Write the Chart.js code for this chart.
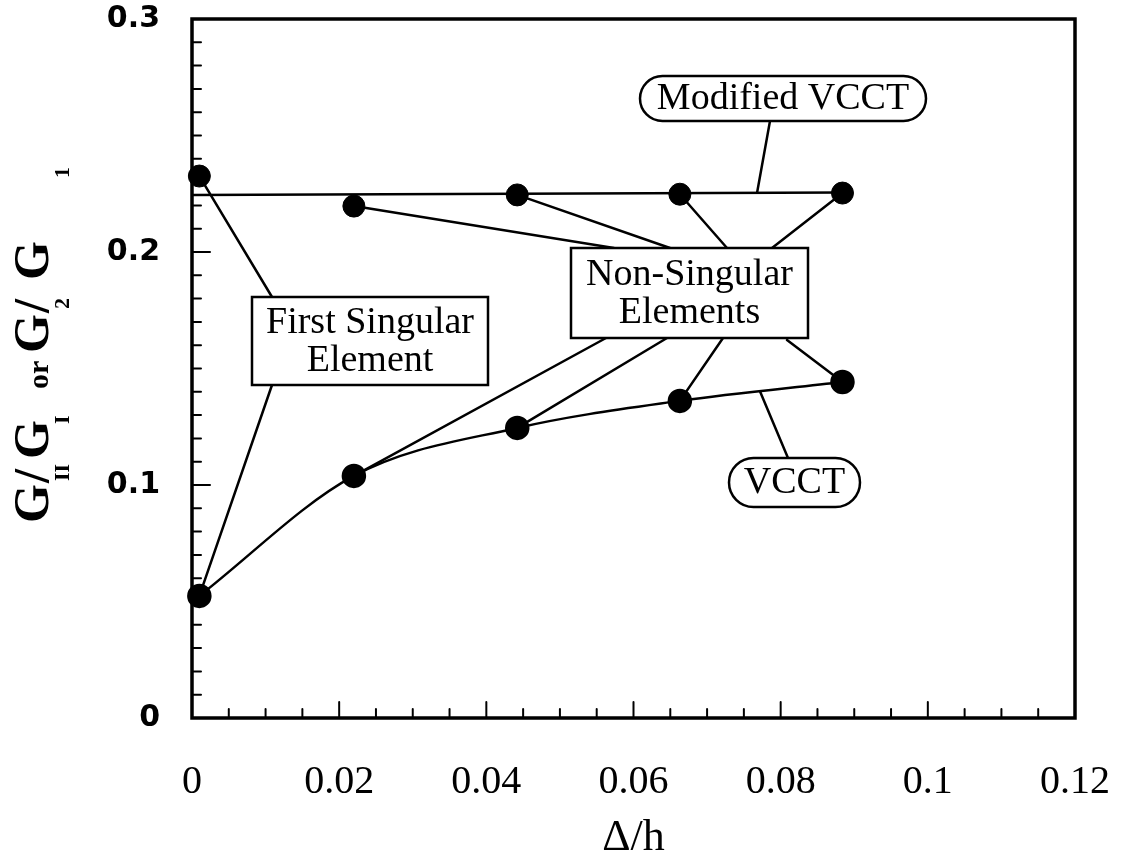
<!DOCTYPE html>
<html>
<head>
<meta charset="utf-8">
<script src="https://cdn.jsdelivr.net/npm/chart.js@4.4.1/dist/chart.umd.min.js"></script>
<style>
  html, body { margin: 0; padding: 0; background: #fff; }
  #wrap { width: 1124px; height: 865px; }
</style>
</head>
<body>
<div id="wrap"><canvas id="ratioChart" width="1124" height="865"></canvas></div>
<script>
// === Data ===
const deltaH = [0.001, 0.022, 0.0442, 0.0663, 0.0884];
const modifiedVcct = [0.2326, 0.2197, 0.2245, 0.2248, 0.2253];
const vcct = [0.0524, 0.1039, 0.1245, 0.1361, 0.1442];
const modifiedLineX = [0, 0.0884];
const modifiedLineY = [0.2245, 0.2255];

const xTickValues = [0, 0.02, 0.04, 0.06, 0.08, 0.1, 0.12];
const xTickLabels = ['0', '0.02', '0.04', '0.06', '0.08', '0.1', '0.12'];
const yTickValues = [0, 0.1, 0.2, 0.3];
const yTickLabels = ['0', '0.1', '0.2', '0.3'];

const SERIF = '"Liberation Serif", "DejaVu Serif", serif';
const toPts = (xs, ys) => xs.map((x, i) => ({ x: x, y: ys[i] }));

// linear position on the VCCT curve, used only to anchor a leader line
const vcctAt = (x) => {
    for (let i = 0; i < deltaH.length - 1; i++) {
        if (x >= deltaH[i] && x <= deltaH[i + 1]) {
            const t = (x - deltaH[i]) / (deltaH[i + 1] - deltaH[i]);
            return vcct[i] + t * (vcct[i + 1] - vcct[i]);
        }
    }
    return vcct[vcct.length - 1];
};

// callout boxes (pixel layout)
const boxes = [
    { lines: ['Modified VCCT'], x1: 640, y1: 76, x2: 926, y2: 121, round: true },
    { lines: ['Non-Singular', 'Elements'], x1: 571, y1: 248, x2: 808, y2: 338 },
    { lines: ['First Singular', 'Element'], x1: 252, y1: 297, x2: 488, y2: 385 },
    { lines: ['VCCT'], x1: 729, y1: 458, x2: 860, y2: 507, round: true }
];

const overlay = {
    id: 'overlay',
    afterDatasetsDraw(chart) {
        const { ctx, chartArea: a, scales: { x, y } } = chart;
        ctx.save();
        ctx.strokeStyle = '#000';
        ctx.fillStyle = '#000';
        ctx.lineCap = 'round';

        // frame
        ctx.lineWidth = 3.5;
        ctx.strokeRect(a.left, a.top, a.right - a.left, a.bottom - a.top);

        // inward ticks
        ctx.lineWidth = 2;
        for (let i = 0; i <= 24; i++) {
            const px = x.getPixelForValue(i * 0.005);
            const len = i % 4 === 0 ? 16 : 9;
            ctx.beginPath();
            ctx.moveTo(px, a.bottom);
            ctx.lineTo(px, a.bottom - len);
            ctx.stroke();
        }
        for (let i = 0; i <= 30; i++) {
            const py = y.getPixelForValue(i * 0.01);
            const len = i % 10 === 0 ? 18 : 9;
            ctx.beginPath();
            ctx.moveTo(a.left, py);
            ctx.lineTo(a.left + len, py);
            ctx.stroke();
        }

        // leader lines
        const P = (xv, yv) => [x.getPixelForValue(xv), y.getPixelForValue(yv)];
        const leaders = [
            [[272, 297], P(deltaH[0], modifiedVcct[0])],
            [[272, 385], P(deltaH[0], vcct[0])],
            [[614, 248], P(deltaH[1], modifiedVcct[1])],
            [[670, 248], P(deltaH[2], modifiedVcct[2])],
            [[727, 248], P(deltaH[3], modifiedVcct[3])],
            [[772, 248], P(deltaH[4], modifiedVcct[4])],
            [[606, 338], P(deltaH[1], vcct[1])],
            [[667, 338], P(deltaH[2], vcct[2])],
            [[723, 338], P(deltaH[3], vcct[3])],
            [[787, 340], P(deltaH[4], vcct[4])],
            [[770, 121], P(0.0768, modifiedLineY[1])],
            [[788, 458], P(0.0772, vcctAt(0.0772))]
        ];
        ctx.lineWidth = 2.5;
        leaders.forEach(([p, q]) => {
            ctx.beginPath();
            ctx.moveTo(p[0], p[1]);
            ctx.lineTo(q[0], q[1]);
            ctx.stroke();
        });

        // boxes
        ctx.font = '38px ' + SERIF;
        ctx.textAlign = 'center';
        ctx.textBaseline = 'middle';
        boxes.forEach(b => {
            const w = b.x2 - b.x1, h = b.y2 - b.y1;
            ctx.beginPath();
            if (b.round) ctx.roundRect(b.x1, b.y1, w, h, h / 2);
            else ctx.rect(b.x1, b.y1, w, h);
            ctx.fillStyle = '#fff';
            ctx.fill();
            ctx.lineWidth = 2.5;
            ctx.stroke();
            ctx.fillStyle = '#000';
            const cx = (b.x1 + b.x2) / 2;
            const lh = 38;
            const top = (b.y1 + b.y2) / 2 - lh * (b.lines.length - 1) / 2;
            b.lines.forEach((t, i) => ctx.fillText(t, cx, top + i * lh + 1));
        });

        // y axis title with subscripts (reads bottom to top)
        const big = 'bold 50px ' + SERIF, sub = 'bold 22px ' + SERIF;
        const titleParts = [
            { t: 'G', u: 0, f: big, v: 0 },
            { t: '/', u: 40, f: big, v: 0 },
            { t: 'II', u: 42, f: sub, v: 21 },
            { t: 'G', u: 64, f: big, v: 0 },
            { t: 'I', u: 99, f: sub, v: 21 },
            { t: 'or', u: 134, f: 'bold 30px ' + SERIF, v: 0 },
            { t: 'G', u: 170, f: big, v: 0 },
            { t: '2', u: 214, f: sub, v: 21 },
            { t: '/', u: 210, f: big, v: 0 },
            { t: 'G', u: 243, f: big, v: 0 },
            { t: '1', u: 345, f: sub, v: 21 }
        ];
        ctx.translate(48, 523);
        ctx.rotate(-Math.PI / 2);
        ctx.textAlign = 'left';
        ctx.textBaseline = 'alphabetic';
        titleParts.forEach(p => {
            ctx.font = p.f;
            ctx.fillText(p.t, p.u, p.v);
        });
        ctx.restore();
    }
};

const noPad = (s) => { s.paddingTop = 0; s.paddingBottom = 0; s.paddingLeft = 0; s.paddingRight = 0; };

const ctxEl = document.getElementById('ratioChart');
new Chart(ctxEl, {
    type: 'scatter',
    data: {
        datasets: [
            {
                label: 'Modified VCCT',
                data: toPts(modifiedLineX, modifiedLineY),
                showLine: true,
                borderColor: '#000',
                borderWidth: 2.5,
                pointRadius: 0,
                clip: false
            },
            {
                label: 'Modified VCCT elements',
                data: toPts(deltaH, modifiedVcct),
                showLine: false,
                pointRadius: 11,
                backgroundColor: '#000',
                borderColor: '#000',
                clip: false
            },
            {
                label: 'VCCT',
                data: toPts(deltaH, vcct),
                showLine: true,
                cubicInterpolationMode: 'monotone',
                borderColor: '#000',
                borderWidth: 2.5,
                pointRadius: 11,
                backgroundColor: '#000',
                clip: false
            }
        ]
    },
    options: {
        responsive: false,
        animation: false,
        layout: { padding: { top: 19, right: 49, left: 0, bottom: 0 } },
        plugins: {
            legend: { display: false },
            tooltip: { enabled: false }
        },
        scales: {
            x: {
                type: 'linear',
                min: 0,
                max: 0.12,
                afterBuildTicks: (s) => { s.ticks = xTickValues.map(v => ({ value: v })); },
                afterFit: (s) => { s.height = 147; noPad(s); },
                grid: { display: false, drawTicks: false },
                border: { display: false },
                ticks: {
                    padding: 40,
                    maxRotation: 0,
                    autoSkip: false,
                    color: '#000',
                    font: { family: SERIF, size: 40 },
                    callback: (v, i) => xTickLabels[i]
                },
                title: {
                    display: true,
                    text: 'Δ/h',
                    color: '#000',
                    font: { family: SERIF, size: 44 },
                    padding: { top: 0, bottom: 0 }
                }
            },
            y: {
                type: 'linear',
                min: 0,
                max: 0.3,
                afterBuildTicks: (s) => { s.ticks = yTickValues.map(v => ({ value: v })); },
                afterFit: (s) => { s.width = 192; noPad(s); },
                grid: { display: false, drawTicks: false },
                border: { display: false },
                ticks: {
                    padding: 32,
                    color: '#000',
                    font: { family: '"DejaVu Sans", sans-serif', size: 30, weight: 'bold' },
                    callback: (v, i) => yTickLabels[i]
                }
            }
        }
    },
    plugins: [overlay]
});
</script>
</body>
</html>
